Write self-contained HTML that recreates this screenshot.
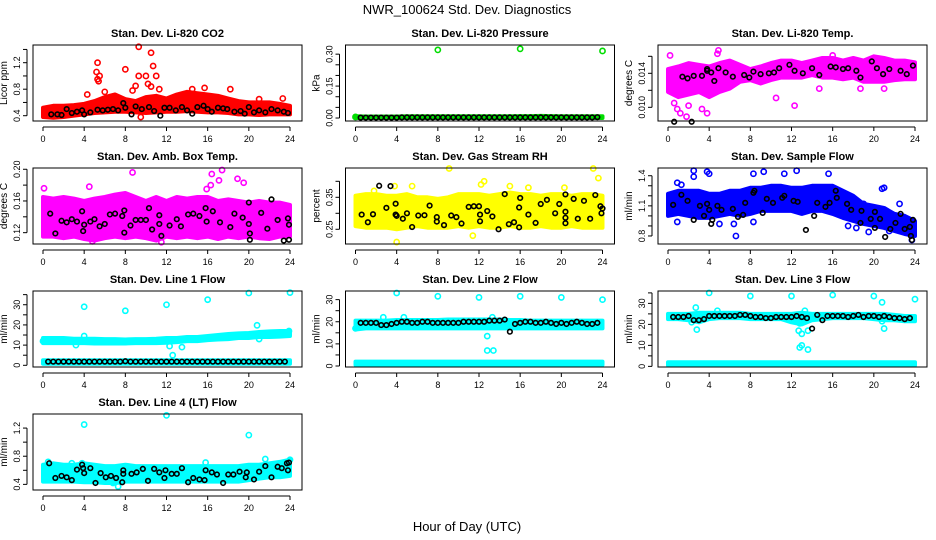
<!DOCTYPE html>
<html><head><meta charset="utf-8"><style>
body{margin:0;background:#fff}
svg{display:block;font-family:"Liberation Sans",Arial,sans-serif}
</style></head><body>
<svg id="chart" width="936" height="540" viewBox="0 0 936 540">
<rect width="936" height="540" fill="#fff"/>
<text x="467" y="14" text-anchor="middle" font-size="13">NWR_100624 Std. Dev. Diagnostics</text>
<text x="467" y="531" text-anchor="middle" font-size="13">Hour of Day (UTC)</text>
</svg>
<script>
const bandHours=[0,1,2,3,4,5,6,7,8,9,10,11,12,13,14,15,16,17,18,19,20,21,22,23,24];
const blackHours=[0.5,1,1.5,2,2.5,3,3.5,4,4.5,5,5.5,6,6.5,7,7.5,8,8.5,9,9.5,10,10.5,11,11.5,12,12.5,13,13.5,14,14.5,15,15.5,16,16.5,17,17.5,18,18.5,19,19.5,20,20.5,21,21.5,22,22.5,23,23.5];
const xTicks=[0,4,8,12,16,20,24];

// Panel 1 CO2
const p1Hi=[.52,.55,.55,.56,.58,.62,.68,.72,.65,.62,.68,.7,.66,.72,.76,.74,.72,.7,.66,.62,.6,.6,.6,.58,.55];
const p1Lo=[.38,.37,.38,.4,.42,.44,.45,.46,.46,.45,.44,.45,.46,.46,.47,.46,.45,.45,.44,.42,.42,.41,.42,.42,.42];
const p1Out=[[5.3,1.2],[5.2,1.06],[5.3,.95],[5.4,.92],[5.5,1.0],[4.3,.72],[8,1.1],[9.3,1.44],[10.5,1.35],[10.7,1.15],[9.3,1.0],[10,1.0],[11,1.0],[10.2,.88],[10.5,.84],[8.7,.78],[9,.85],[11.3,.8],[9.5,.38],[15.7,.82],[18.2,.8],[21,.65],[23.3,.66],[6,.76],[14.5,.8]];
const p1Blk=[[.8,.42],[1.4,.42],[1.8,.41],[2.3,.5],[2.8,.44],[3.3,.46],[3.8,.48],[4,.42],[4.6,.45],[5.3,.49],[5.8,.48],[6.3,.49],[6.8,.5],[7.3,.48],[7.8,.59],[8,.52],[8.6,.42],[9,.54],[9.6,.5],[10.3,.53],[10.8,.47],[11.4,.4],[11.8,.52],[12.3,.52],[12.9,.48],[13.5,.53],[14,.48],[14.5,.43],[15,.53],[15.6,.55],[16,.5],[16.4,.46],[17,.52],[17.5,.51],[17.9,.5],[18.6,.46],[19.2,.47],[19.6,.43],[20,.53],[20.5,.45],[21,.48],[21.6,.45],[22.2,.5],[22.8,.48],[23.4,.46],[23.8,.44]];
// Panel 2 Pressure
const p2Hi=[.008,.007,.007,.007,.007,.008,.008,.008,.008,.008,.008,.008,.008,.008,.008,.008,.009,.009,.01,.009,.008,.008,.008,.008,.008];
const p2Lo=[0,0,0,0,0,0,0,0,0,0,0,0,0,0,0,0,0,0,0,0,0,0,0,0,0];
const p2Out=[[8,.32],[16,.325],[24,.315],[0,.005]];
const p2BlkY=[.002,.002,.002,.002,.002,.002,.002,.002,.003,.003,.003,.003,.003,.003,.003,.003,.003,.003,.003,.003,.003,.003,.003,.003,.003,.003,.003,.003,.003,.003,.003,.003,.003,.003,.003,.003,.003,.003,.003,.003,.003,.003,.003,.003,.003,.003,.004];
// Panel 3 Li-820 Temp
const p3Hi=[.0145,.0148,.0152,.015,.0148,.0152,.0155,.015,.0145,.0148,.0152,.0155,.0155,.0152,.0155,.0158,.0158,.0155,.0158,.0155,.016,.0158,.0155,.0155,.0153];
const p3Lo=[.0118,.0112,.0115,.0118,.0112,.0118,.0122,.013,.0132,.0128,.0132,.0135,.0135,.0135,.0138,.0135,.0135,.0133,.0135,.013,.013,.013,.0132,.0133,.0133];
const p3Out=[[.2,.0161],[.6,.0105],[.9,.0098],[1.2,.0093],[1.8,.0089],[2,.0102],[3.3,.0098],[3.8,.0093],[4.8,.0163],[4.9,.0167],[10.5,.0111],[16,.0161],[12.3,.0102],[5.2,.0122],[14.7,.0122],[18.7,.0122],[21,.0122],[20.1,.0157]];
const p3Blk=[[.6,.0083],[1.4,.0136],[1.9,.0134],[2.3,.0083],[2.5,.0137],[3.3,.0137],[3.8,.0145],[3.8,.0143],[4.2,.0141],[4.5,.0131],[4.9,.0146],[5.6,.0141],[6.3,.0136],[7.4,.0138],[7.9,.0135],[8.3,.0142],[9,.0139],[9.8,.014],[10.3,.0141],[10.8,.0146],[11.8,.015],[12.3,.0143],[13.1,.014],[14,.0146],[14.7,.0138],[15.8,.0148],[16.3,.0147],[17,.0145],[17.5,.0146],[18.3,.0143],[18.7,.0135],[19.8,.0154],[20.3,.0146],[20.9,.0139],[21.5,.0145],[22.6,.0143],[23.2,.0139],[23.8,.0149]];
// Panel 4 Amb Box Temp
const p4Hi=[.165,.163,.165,.163,.16,.163,.165,.168,.17,.165,.16,.165,.16,.165,.163,.165,.165,.16,.162,.16,.158,.16,.158,.158,.155];
const p4Lo=[.115,.115,.113,.115,.112,.11,.113,.115,.113,.115,.113,.11,.115,.113,.115,.113,.115,.112,.115,.113,.115,.113,.112,.115,.115];
const p4Out=[[.1,.176],[4.5,.178],[8.7,.196],[16.4,.194],[17.4,.199],[17.1,.186],[18.9,.188],[19.5,.183],[15.9,.175],[16.3,.18],[13.9,.16],[11.5,.108],[4.8,.109]];
const p4Blk=[[.7,.144],[1.2,.119],[1.8,.135],[2.3,.133],[2.8,.137],[3.3,.134],[3.8,.147],[3.9,.122],[4,.13],[4.6,.134],[5,.137],[5.5,.128],[6,.131],[6.5,.143],[7,.144],[7.7,.141],[7.9,.12],[7.9,.148],[8.5,.129],[9,.136],[9.5,.136],[10,.136],[10.3,.151],[10.6,.124],[11.3,.142],[11.3,.131],[11.5,.116],[12.3,.129],[13,.137],[13.4,.128],[14.1,.143],[14.6,.144],[15.2,.141],[15.8,.151],[15.9,.134],[16.5,.147],[17.2,.133],[18.2,.127],[18.6,.144],[19.4,.139],[20,.131],[20.1,.119],[20.1,.111],[20,.158],[21.2,.145],[21.8,.125],[22.2,.162],[22.8,.136],[23.4,.11],[23.8,.138],[23.9,.13],[23.9,.111]];
// Panel 5 RH
const p5Hi=[.355,.36,.36,.355,.355,.36,.35,.35,.345,.35,.36,.36,.36,.355,.36,.365,.36,.36,.355,.36,.36,.355,.36,.36,.355];
const p5Lo=[.26,.255,.255,.255,.25,.255,.26,.255,.255,.255,.26,.255,.26,.255,.255,.26,.255,.255,.26,.255,.255,.26,.255,.255,.255];
const p5Out=[[4,.21],[9.1,.44],[11.4,.23],[12.5,.4],[16.8,.38],[20.3,.38],[23.1,.44],[23.6,.41],[3.8,.385],[1.8,.37],[12.2,.39],[5.5,.385],[15,.385]];
const p5Blk=[[.6,.296],[1.2,.272],[1.7,.297],[2.3,.386],[3,.317],[3.4,.385],[3.9,.33],[3.9,.296],[4,.292],[4.6,.283],[5,.3],[5.5,.257],[6.1,.293],[6.7,.294],[7.2,.324],[7.9,.288],[7.9,.274],[8.6,.263],[9.3,.293],[9.8,.288],[10.3,.268],[11,.32],[11.5,.322],[12,.322],[12.1,.296],[12.1,.275],[12.8,.307],[13.3,.29],[13.9,.25],[14.5,.36],[14.9,.266],[15.4,.272],[15.9,.318],[15.9,.256],[16,.348],[16.8,.296],[17.5,.27],[18,.329],[18.6,.342],[19.4,.3],[19.8,.329],[20.4,.359],[20.4,.305],[20.4,.286],[20.4,.269],[21.2,.345],[21.6,.283],[22.2,.339],[22.8,.283],[23.3,.357],[23.8,.322],[23.9,.3],[24,.315]];
// Panel 6 Sample Flow
const p6Hi=[1.22,1.25,1.25,1.25,1.22,1.22,1.25,1.25,1.28,1.28,1.3,1.3,1.28,1.28,1.3,1.3,1.3,1.25,1.2,1.12,1.1,1.08,1.02,1.0,.95];
const p6Lo=[1.0,1.02,1.0,.98,.98,1.0,1.02,1.0,1.02,1.05,1.05,1.05,1.05,1.02,1.05,1.05,1.02,.98,.95,.92,.9,.88,.85,.82,.8];
const p6Out=[[.9,1.33],[1.3,1.31],[2.5,1.39],[3.8,1.44],[4,1.42],[8.3,1.42],[9.3,1.44],[11.3,1.42],[12.5,1.45],[15.6,1.42],[6.6,.8],[.9,.94],[5,.92],[6.4,.92],[8.3,.94],[17.5,.9],[18.3,.88],[19.5,.84],[21.5,.85],[21,1.28],[23.5,.95],[23.7,.76],[19,1.12],[22.5,1.12],[20.8,1.27],[2.5,1.45]];
const p6Blk=[[.5,1.11],[1.3,1.21],[1.9,1.15],[2.5,.96],[3.1,1.1],[4.2,.92],[3.5,1.0],[3.8,1.12],[4,1.06],[4.3,.96],[4.8,1.1],[5.2,1.06],[6.3,1.07],[6.8,.99],[7.3,1.01],[7.5,1.13],[8.4,1.25],[8.3,1.23],[9.2,1.03],[9.6,1.17],[10.2,1.13],[11.1,1.18],[11.3,1.2],[12.2,1.15],[12.6,1.14],[13.4,.86],[14.2,1.0],[14.5,1.13],[15.3,1.09],[15.7,1.13],[16.3,1.25],[16.4,1.18],[17.4,1.12],[17.8,1.06],[18.7,.93],[18.8,1.05],[19.7,.97],[20.1,1.04],[20.1,.88],[20.6,.97],[21.1,.79],[21.6,.87],[22.1,.93],[22.6,1.02],[23,.87],[23.5,.89],[23.6,.8],[23.8,.96],[23.7,.76]];
// Panel 7 Line 1 Flow
const p7Hi=[13.5,13.5,13.5,13.2,13.2,13.2,13,13,12.8,13,13,13.2,13.5,13.5,14,14,14.5,15,15.5,15.8,16,16.5,16.8,17,17];
const p7Lo=[11,11,11,11,11,10.8,10.8,10.8,10.8,11,11,11,11.2,11.5,12,12,12.5,12.8,13,13.5,13.5,14,14,14.2,14.5];
const p7LowHi=[2.5,2.5,2.5,2.5,2.5,2.5,2.5,2.5,2.5,2.5,2.5,2.5,2.5,2.5,2.5,2.5,2.5,2.5,2.5,2.5,2.5,2.5,2.5,2.5,2.5];
const p7LowLo=[.8,.8,.8,.8,.8,.8,.8,.8,.8,.8,.8,.8,.8,.8,.8,.8,.8,.8,.8,.8,.8,.8,.8,.8,.8];
const p7Out=[[4,29],[8,27],[12,30],[16,32.5],[20,35.8],[24,36],[20.8,19.8],[12.6,5],[13.5,9],[12.3,9.5],[3.2,10],[0,12],[21,13],[23.9,17],[4,14.5]];
const p7BlkY=[1.8,1.8,1.8,1.8,1.8,1.8,1.8,1.8,1.8,1.8,1.8,1.8,1.8,1.8,1.8,2,1.8,1.8,1.8,1.8,1.8,1.8,1.8,1.8,1.8,1.8,1.8,1.8,1.8,1.8,1.8,1.8,1.8,1.8,1.8,1.8,1.8,1.8,1.8,1.8,1.8,1.8,1.8,1.8,1.8,1.8,1.8];
// Panel 8 Line 2 Flow
const p8Hi=[20.5,20.5,20.5,20.5,20.8,20.8,20.8,20.8,20.8,21,21,21,21,21,21,20.8,20.8,20.5,20.5,20.5,20.5,20.5,20.5,20.5,20.5];
const p8Lo=[16.5,17,17,17,17,17,17,17,17,17,17,17,17,17,17,17,17,17,17,17,17,17,17,17,17];
const p8LowHi=[2,2,2,2,2,2,2,2,2,2,2,2,2,2,2,2,2,2,2,2,2,2,2,2,2];
const p8LowLo=[.5,.5,.5,.5,.5,.5,.5,.5,.5,.5,.5,.5,.5,.5,.5,.5,.5,.5,.5,.5,.5,.5,.5,.5,.5];
const p8Out=[[4,33],[8,31.5],[12,31],[16,31.5],[20,31],[24,30],[12.8,13.5],[12.8,7],[13.4,7],[2.7,22],[4.7,22],[13.3,22],[0,17]];
const p8BlkY=[19.5,19.5,19.5,19.5,18.5,18.5,19,19.5,20,20,19.5,19.5,20,20,19.5,19.5,19.5,19.5,19.5,19.5,20,20,20,20,20,20.5,20.5,20.5,21,15.5,19,19.5,20,20,19.5,19.5,20,19.5,19,19.5,19,19.5,20,19.5,19,19,19.5];
// Panel 9 Line 3 Flow
const p9Hi=[25,25,25,25.5,25.5,25.5,25.5,25.5,25,25,25,25,25,25.5,25,25,25,25,25,25,25,25,24.5,24,24];
const p9Lo=[22.5,22.5,22,21,22.5,23,23,23,22.5,22.5,22.5,22.5,21,20,22,22.5,23,23,23,23,22.5,22,22,21.5,21.5];
const p9LowHi=[2,2,2,2,2,2,2,2,2,2,2,2,2,2,2,2,2,2,2,2,2,2,2,2,2];
const p9LowLo=[.5,.5,.5,.5,.5,.5,.5,.5,.5,.5,.5,.5,.5,.5,.5,.5,.5,.5,.5,.5,.5,.5,.5,.5,.5];
const p9Out=[[12.7,17],[13,15.5],[12.8,9],[13,10],[13.6,8],[13.6,17],[12.8,20.5],[13,22],[2.3,21],[2.7,28],[2.8,17.5],[4,35],[4.8,26.5],[8,33.5],[12,33.5],[16,34],[20,33.5],[20.8,30.5],[21,18],[20.8,21.5],[24,32],[13.3,26.5]];
const p9BlkY=[23.5,23.5,23.5,24,22,22,22.5,24,24,24,24,24,24,24.5,24.5,24,23.5,23.5,23,23,23.5,23.5,23.5,23.5,24,23.5,23,18,24.5,22,24,24,24,24,23.5,24,24.5,23.5,24,24,23.5,24,23.5,23,23,22.5,23];
// Panel 10 Line 4 (LT) Flow
const p10Hi=[.68,.7,.68,.68,.7,.68,.66,.66,.68,.66,.66,.66,.66,.66,.66,.66,.66,.66,.66,.66,.68,.68,.7,.72,.75];
const p10Lo=[.44,.44,.44,.44,.43,.43,.42,.42,.44,.44,.44,.44,.44,.44,.44,.44,.44,.44,.44,.44,.46,.48,.5,.5,.52];
const p10Out=[[4,1.25],[12,1.38],[20,1.1],[21.6,.76],[7.3,.37],[.5,.72],[2.8,.7],[3.8,.7],[6.8,.42],[15.8,.71],[24,.75]];
const p10Blk=[[.6,.7],[1.2,.49],[1.8,.52],[2.3,.5],[2.8,.46],[3.3,.61],[3.8,.68],[3.9,.63],[4,.56],[4.6,.63],[5.1,.42],[5.6,.56],[6.1,.5],[6.6,.52],[7.1,.49],[7.7,.43],[7.8,.6],[7.8,.55],[8.6,.55],[9.1,.57],[9.7,.62],[10.2,.45],[10.8,.62],[11.3,.57],[11.8,.49],[11.9,.6],[12.5,.55],[13,.55],[13.5,.63],[14.1,.43],[14.6,.49],[15.2,.47],[15.7,.46],[15.8,.6],[16.4,.57],[16.9,.54],[17.5,.42],[18,.54],[18.5,.54],[19.1,.58],[19.7,.5],[19.8,.57],[20.5,.47],[21,.58],[21.6,.66],[22.2,.5],[22.8,.65],[23.2,.63],[23.7,.7],[23.8,.6],[23.9,.71]];

const svg=document.getElementById('chart');
const NS='http://www.w3.org/2000/svg';
function mk(tag,attrs,parent){const e=document.createElementNS(NS,tag);for(const k in attrs)e.setAttribute(k,attrs[k]);(parent||svg).appendChild(e);return e;}

const panels=[
 {title:'Stan. Dev. Li-820 CO2',yl:'Licor ppm',col:0,row:0,color:'#ff0000',dom:[.32,1.467],ticks:[.4,.6,.8,1,1.2,1.4],labels:[[.4,'0.4'],[.8,'0.8'],[1.2,'1.2']],bands:[[p1Lo,p1Hi]],out:p1Out,blk:p1Blk},
 {title:'Stan. Dev. Li-820 Pressure',yl:'kPa',col:1,row:0,color:'#00dd00',dom:[-.014,.343],ticks:[0,.05,.1,.15,.2,.25,.3],labels:[[0,'0.00'],[.15,'0.15'],[.3,'0.30']],bands:[[p2Lo,p2Hi]],out:p2Out,blkY:p2BlkY},
 {title:'Stan. Dev. Li-820 Temp.',yl:'degrees C',col:2,row:0,color:'#ff00ff',dom:[.00839,.01733],ticks:[.01,.012,.014,.016],labels:[[.01,'0.010'],[.014,'0.014']],bands:[[p3Lo,p3Hi]],out:p3Out,blk:p3Blk},
 {title:'Stan. Dev. Amb. Box Temp.',yl:'degrees C',col:0,row:1,color:'#ff00ff',dom:[.1057,.2016],ticks:[.12,.14,.16,.18,.2],labels:[[.12,'0.12'],[.16,'0.16'],[.2,'0.20']],bands:[[p4Lo,p4Hi]],out:p4Out,blk:p4Blk},
 {title:'Stan. Dev. Gas Stream RH',yl:'percent',col:1,row:1,color:'#ffff00',dom:[.204,.4416],ticks:[.25,.3,.35,.4],labels:[[.25,'0.25'],[.35,'0.35']],bands:[[p5Lo,p5Hi]],out:p5Out,blk:p5Blk},
 {title:'Stan. Dev. Sample Flow',yl:'ml/min',col:2,row:1,color:'#0000ff',dom:[.72,1.477],ticks:[.8,.9,1,1.1,1.2,1.3,1.4],labels:[[.8,'0.8'],[1.1,'1.1'],[1.4,'1.4']],bands:[[p6Lo,p6Hi]],out:p6Out,blk:p6Blk},
 {title:'Stan. Dev. Line 1 Flow',yl:'ml/min',col:0,row:2,color:'#00ffff',dom:[-.84,36.8],ticks:[0,5,10,15,20,25,30,35],labels:[[0,'0'],[10,'10'],[20,'20'],[30,'30']],bands:[[p7Lo,p7Hi],[p7LowLo,p7LowHi]],out:p7Out,blkY:p7BlkY},
 {title:'Stan. Dev. Line 2 Flow',yl:'ml/min',col:1,row:2,color:'#00ffff',dom:[-.45,33.9],ticks:[0,5,10,15,20,25,30],labels:[[0,'0'],[10,'10'],[20,'20'],[30,'30']],bands:[[p8Lo,p8Hi],[p8LowLo,p8LowHi]],out:p8Out,blkY:p8BlkY},
 {title:'Stan. Dev. Line 3 Flow',yl:'ml/min',col:2,row:2,color:'#00ffff',dom:[-.3,35.9],ticks:[0,5,10,15,20,25,30,35],labels:[[0,'0'],[10,'10'],[20,'20'],[30,'30']],bands:[[p9Lo,p9Hi],[p9LowLo,p9LowHi]],out:p9Out,blkY:p9BlkY},
 {title:'Stan. Dev. Line 4 (LT) Flow',yl:'ml/min',col:0,row:3,color:'#00ffff',dom:[.32,1.4],ticks:[.4,.6,.8,1,1.2],labels:[[.4,'0.4'],[.8,'0.8'],[1.2,'1.2']],bands:[[p10Lo,p10Hi]],out:p10Out,blk:p10Blk}
];

panels.forEach((p,i)=>{
 const x0=43+312.5*p.col, pxh=247/24;
 const top=45+123*p.row, bot=top+76, left=x0-10, right=x0+259;
 const sx=h=>x0+h*pxh;
 const sy=v=>bot-(v-p.dom[0])/(p.dom[1]-p.dom[0])*(bot-top);
 const g=mk('g',{});
 
 
 const t=mk('text',{x:(left+right)/2,y:top-8,'text-anchor':'middle','font-size':11,'font-weight':'bold'},g);
 t.textContent=p.title;
 
 
 const yl=mk('text',{x:0,y:0,'text-anchor':'middle','font-size':10,transform:`translate(${left-26},${(top+bot)/2}) rotate(-90)`},g);
 yl.textContent=p.yl;
 
 
 p.bands.forEach(([lo,hi])=>{
  let d='';
  bandHours.forEach((h,k)=>{d+=(k?'L':'M')+sx(h).toFixed(1)+','+sy(hi[k]).toFixed(1);});
  for(let k=bandHours.length-1;k>=0;k--)d+='L'+sx(bandHours[k]).toFixed(1)+','+sy(lo[k]).toFixed(1);
  const b=mk('path',{d:d+'Z',fill:p.color,stroke:p.color,'stroke-width':4,'stroke-linejoin':'round'},g);
  
  
 });
 p.out.forEach(([h,v])=>{
  const c=mk('circle',{cx:sx(h),cy:sy(v),r:2.6,fill:'none',stroke:p.color,'stroke-width':1.6},g);
  
  
 });
 const blk=p.blk||p.blkY.map((v,k)=>[blackHours[k],v]);
 blk.forEach(([h,v])=>{
  const c=mk('circle',{cx:sx(h),cy:sy(v),r:2.3,fill:'none',stroke:'#000','stroke-width':1.6},g);
  
  
 });
 mk('rect',{x:left,y:top,width:right-left,height:bot-top,fill:'none',stroke:'#000','stroke-width':1},g);
 mk('line',{x1:sx(0),x2:sx(24),y1:bot+6,y2:bot+6,stroke:'#000'},g);
 xTicks.forEach(h=>{
  mk('line',{x1:sx(h),x2:sx(h),y1:bot+6,y2:bot+10,stroke:'#000'},g);
  const tl=mk('text',{x:sx(h),y:bot+21,'text-anchor':'middle','font-size':9},g);
  tl.textContent=h;
  
  
 });
 const yt=p.ticks;
 mk('line',{x1:left-6,x2:left-6,y1:sy(yt[0]),y2:sy(yt[yt.length-1]),stroke:'#000'},g);
 yt.forEach(v=>mk('line',{x1:left-10,x2:left-6,y1:sy(v),y2:sy(v),stroke:'#000'},g));
 p.labels.forEach(([v,s])=>{
  const tl=mk('text',{x:0,y:0,'text-anchor':'middle','font-size':9,transform:`translate(${left-13},${sy(v)}) rotate(-90)`},g);
  tl.textContent=s;
  
  
 });
});
</script>
</body></html>
